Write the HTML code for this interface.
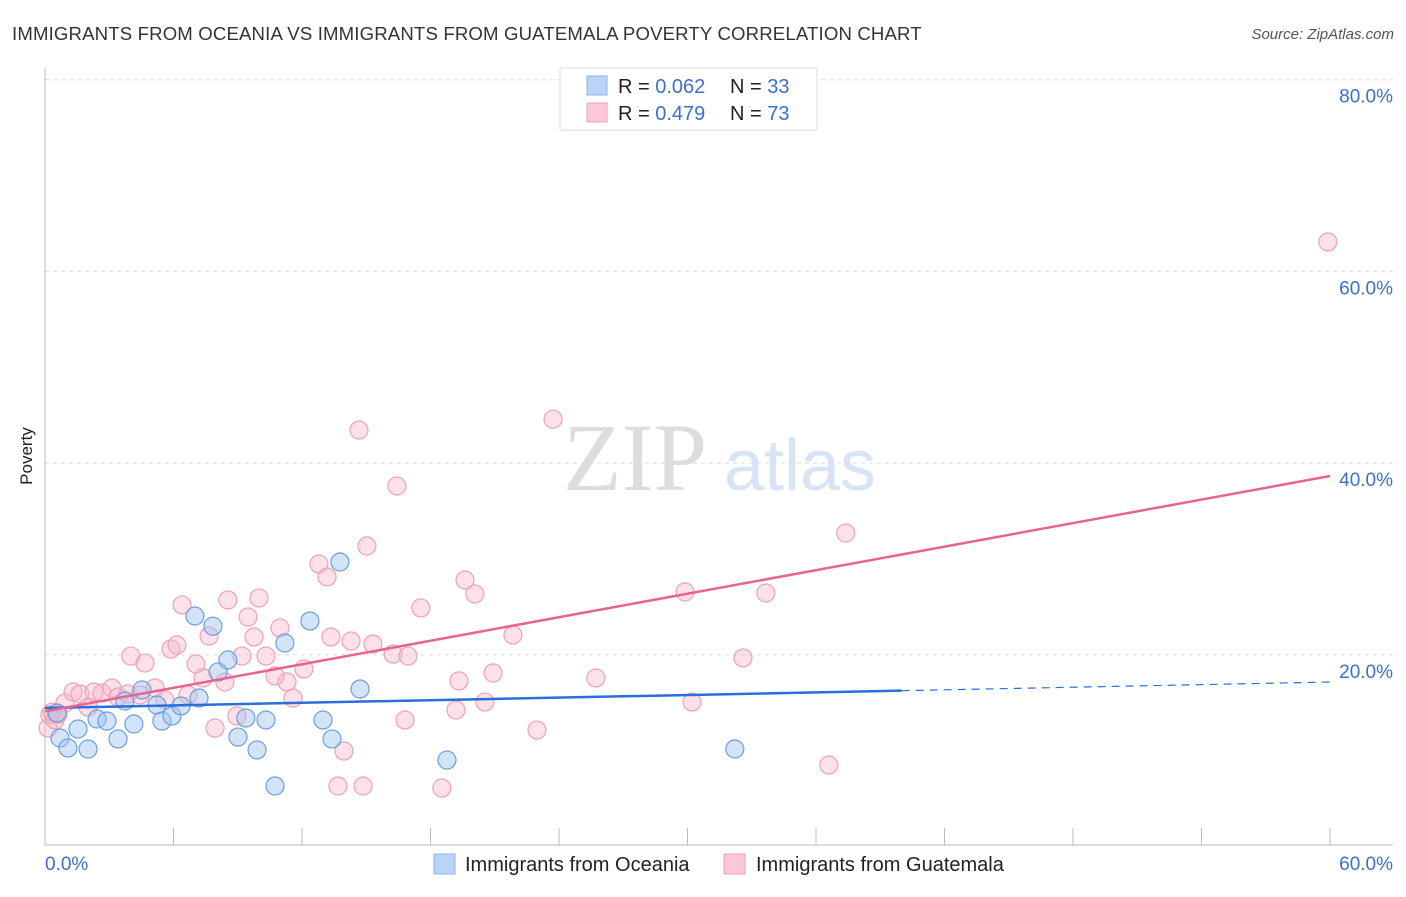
<!DOCTYPE html>
<html><head><meta charset="utf-8"><style>
body{margin:0;background:#fff;font-family:"Liberation Sans",sans-serif;}
</style></head><body>
<svg id="chart" width="1406" height="892" xmlns="http://www.w3.org/2000/svg">
<text x="12" y="40" font-size="18.6" letter-spacing="0.15" fill="#333">IMMIGRANTS FROM OCEANIA VS IMMIGRANTS FROM GUATEMALA POVERTY CORRELATION CHART</text>
<text x="1394" y="39" font-size="15" fill="#555" font-style="italic" text-anchor="end">Source: ZipAtlas.com</text>
<text x="32" y="456" font-size="17" fill="#222" text-anchor="middle" transform="rotate(-90 32 456)">Poverty</text>
<g><text x="635" y="490" font-size="96" fill="#ddd" font-family="Liberation Serif,serif" text-anchor="middle">ZIP</text><text x="800" y="490" font-size="72" fill="#d6e4f5" text-anchor="middle">atlas</text></g>
<g id="grid"></g><g id="axes"></g><g id="pts"></g><g id="lines"></g>
<g>
<rect x="560" y="68" width="257" height="62" fill="#fff" stroke="#ddd"/>
<rect x="587" y="76" width="20" height="19" fill="#b9d4f5" stroke="#8db4e8"/>
<rect x="587" y="103" width="20" height="19" fill="#fbc8d6" stroke="#f0a0b8"/>
<text x="618" y="93" font-size="20" fill="#222">R = <tspan fill="#3b6fd0">0.062</tspan></text>
<text x="730" y="93" font-size="20" fill="#222">N = <tspan fill="#3b6fd0">33</tspan></text>
<text x="618" y="120" font-size="20" fill="#222">R = <tspan fill="#3b6fd0">0.479</tspan></text>
<text x="730" y="120" font-size="20" fill="#222">N = <tspan fill="#3b6fd0">73</tspan></text>
</g>
<g>
<g><rect x="434" y="854" width="21" height="20" fill="#b9d4f5" stroke="#8db4e8"/><text x="465" y="871" font-size="20" fill="#222">Immigrants from Oceania</text></g>
<g><rect x="724" y="854" width="21" height="20" fill="#fbc8d6" stroke="#f0a0b8"/><text x="756" y="871" font-size="20" fill="#222">Immigrants from Guatemala</text></g>
</g>
</svg>
<script>
const yTicks=[20,40,60,80];
const yTickLabels=["20.0%","40.0%","60.0%","80.0%"];
const xTickLabels=["0.0%","60.0%"];
const blueX=[0.56,0.70,1.07,1.54,2.01,2.43,2.89,3.41,3.73,4.15,4.53,5.23,5.46,5.93,6.35,7.0,7.19,7.84,8.08,8.54,9.01,9.38,9.9,10.32,10.74,11.2,12.37,12.98,13.4,13.77,14.71,18.77,32.21];
const blueY=[13.93,11.32,10.28,12.26,10.17,13.3,13.09,11.22,15.18,12.78,16.33,14.76,13.09,13.62,14.66,24.05,15.49,22.98,18.21,19.46,11.42,13.41,10.07,13.2,6.31,21.23,23.53,13.2,11.22,29.68,16.43,9.02,10.17];
const pinkX=[0.14,0.23,0.33,0.47,0.61,0.93,1.31,1.63,2.01,2.29,2.66,3.13,3.41,3.87,4.01,4.44,4.67,5.14,5.6,5.88,6.16,6.4,6.68,7.05,7.38,7.66,7.94,8.4,8.54,8.96,9.2,9.48,9.76,9.99,10.32,10.74,10.97,11.3,11.58,12.09,12.79,13.17,13.35,13.68,13.96,14.29,14.66,14.85,15.03,15.31,16.25,16.43,16.81,16.95,17.55,18.53,19.19,19.33,19.61,20.07,20.54,20.92,21.85,22.97,23.72,25.72,29.88,30.21,32.59,33.66,36.6,37.39,59.9];
const pinkY=[12.36,13.72,14.03,13.2,13.82,14.97,16.12,15.91,14.55,16.12,16.01,16.54,15.6,15.91,19.87,15.81,19.14,16.54,15.28,20.6,21.02,25.2,15.81,19.04,17.58,21.96,12.36,17.16,25.72,13.62,19.87,23.94,21.86,25.93,19.87,17.79,22.8,17.16,15.49,18.52,29.47,28.12,21.86,6.31,9.96,21.44,43.45,6.31,31.35,21.13,20.08,37.61,13.2,19.87,24.89,6.1,14.24,17.27,27.8,26.35,15.07,18.1,22.07,12.15,44.58,17.58,26.55,15.07,19.67,26.45,8.5,32.7,63.07];
const blueTrend=[14.45,17.16], blueSolidEnd=40;
const pinkTrend=[14.1,38.65];
const X=v=>45+v*(1285/60), Y=v=>846.5-v*9.585;
const NS="http://www.w3.org/2000/svg";
function mk(t,a,p){const e=document.createElementNS(NS,t);for(const k in a)e.setAttribute(k,a[k]);p.appendChild(e);return e;}
const grid=document.getElementById('grid'),axes=document.getElementById('axes');
yTicks.forEach((t,i)=>{
 const l=mk('line',{x1:45,x2:1393,y1:Y(t),y2:Y(t),stroke:'#ddd','stroke-dasharray':'4,4'},grid);
 
 
 const tx=mk('text',{x:1393,y:Y(t)+23,'font-size':19,fill:'#3b6fd0','text-anchor':'end'},axes);
 tx.textContent=yTickLabels[i];
 
 
});
const ax=mk('line',{x1:45,x2:1393,y1:845,y2:845,stroke:'#bbb'},axes);


const ay=mk('line',{x1:45,x2:45,y1:68,y2:845,stroke:'#bbb'},axes);


for(let i=0;i<=10;i++){const tk=mk('line',{x1:X(i*6),x2:X(i*6),y1:828,y2:845,stroke:'#bbb'},axes);
 
 }
const xl0=mk('text',{x:45,y:870,'font-size':19,fill:'#3b6fd0'},axes);xl0.textContent=xTickLabels[0];


const xl1=mk('text',{x:1393,y:870,'font-size':19,fill:'#3b6fd0','text-anchor':'end'},axes);xl1.textContent=xTickLabels[1];


const pts=document.getElementById('pts');
pinkX.forEach((v,i)=>{const c=mk('circle',{cx:X(v),cy:Y(pinkY[i]),r:9,fill:'rgba(248,180,200,0.4)',stroke:'#f0a0b8','stroke-width':1.2},pts);
 
 });
blueX.forEach((v,i)=>{const c=mk('circle',{cx:X(v),cy:Y(blueY[i]),r:9,fill:'rgba(160,196,240,0.45)',stroke:'#6a9fe0','stroke-width':1.2},pts);
 
 });
const lines=document.getElementById('lines');
const bAt=x=>blueTrend[0]+(blueTrend[1]-blueTrend[0])*x/60;
const bl=mk('line',{x1:X(0),y1:Y(bAt(0)),x2:X(blueSolidEnd),y2:Y(bAt(blueSolidEnd)),stroke:'#2a6fd6','stroke-width':2.5},lines);


const bd=mk('line',{x1:X(blueSolidEnd),y1:Y(bAt(blueSolidEnd)),x2:X(60),y2:Y(bAt(60)),stroke:'#2a6fd6','stroke-width':1.2,'stroke-dasharray':'8,6'},lines);


const pl=mk('line',{x1:X(0),y1:Y(pinkTrend[0]),x2:X(60),y2:Y(pinkTrend[1]),stroke:'#e8648e','stroke-width':2.5},lines);


</script>
</body></html>
